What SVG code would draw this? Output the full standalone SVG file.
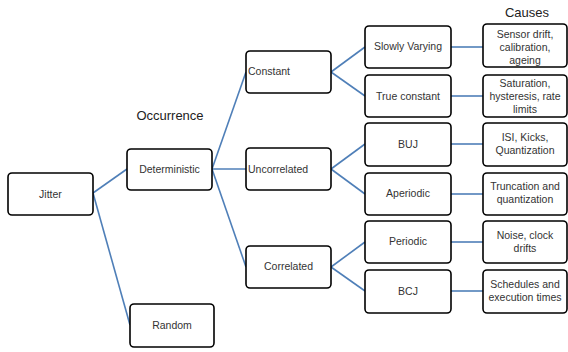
<svg xmlns="http://www.w3.org/2000/svg" width="568" height="352" viewBox="0 0 568 352">
<style>
.box{fill:#fff;stroke:#000;stroke-width:1.6}
.t{font-family:"Liberation Sans",Arial,sans-serif;font-size:10.5px;fill:#333;text-anchor:middle}
.tl{font-family:"Liberation Sans",Arial,sans-serif;font-size:10.5px;fill:#333}
.h{font-family:"Liberation Sans",Arial,sans-serif;font-size:13px;fill:#222;text-anchor:middle}
.c{stroke:#4f7fb8;stroke-width:1.6;fill:none}
</style>
<rect width="568" height="352" fill="#fff"/>
<text class="h" x="170" y="120">Occurrence</text>
<text class="h" x="527" y="17">Causes</text>
<g id="connectors">
<line class="c" x1="93" y1="193" x2="127" y2="169"/>
<line class="c" x1="93" y1="193" x2="130" y2="325"/>
<line class="c" x1="212" y1="169" x2="246" y2="72"/>
<line class="c" x1="212" y1="169" x2="246" y2="169"/>
<line class="c" x1="212" y1="169" x2="246" y2="267"/>
<line class="c" x1="331" y1="72" x2="365" y2="47"/>
<line class="c" x1="331" y1="72" x2="365" y2="96"/>
<line class="c" x1="331" y1="169" x2="365" y2="144"/>
<line class="c" x1="331" y1="169" x2="365" y2="194"/>
<line class="c" x1="331" y1="267" x2="365" y2="242"/>
<line class="c" x1="331" y1="267" x2="365" y2="291"/>
<line class="c" x1="451" y1="47" x2="483" y2="47"/>
<line class="c" x1="451" y1="96" x2="483" y2="96"/>
<line class="c" x1="451" y1="144" x2="483" y2="144"/>
<line class="c" x1="451" y1="194" x2="483" y2="194"/>
<line class="c" x1="451" y1="242" x2="483" y2="242"/>
<line class="c" x1="451" y1="291" x2="483" y2="291"/>
</g>
<g id="jitter"><rect class="box" x="8" y="173" width="85" height="42" rx="4"/><text class="t" x="50.5" y="198">Jitter</text></g>
<g id="deterministic"><rect class="box" x="127" y="149" width="85" height="41" rx="4"/><text class="t" x="169.5" y="173">Deterministic</text></g>
<g id="random"><rect class="box" x="130" y="304" width="84" height="43" rx="4"/><text class="t" x="172" y="329">Random</text></g>
<g id="constant"><rect class="box" x="246" y="51" width="85" height="42" rx="4"/><text class="tl" x="248" y="75">Constant</text></g>
<g id="uncorrelated"><rect class="box" x="246" y="148" width="85" height="42" rx="4"/><text class="tl" x="248" y="173">Uncorrelated</text></g>
<g id="correlated"><rect class="box" x="246" y="246" width="85" height="42" rx="4"/><text class="t" x="288.5" y="270">Correlated</text></g>
<g id="slowly"><rect class="box" x="365" y="26" width="86" height="42" rx="4"/><text class="t" x="408" y="50">Slowly Varying</text></g>
<g id="trueconst"><rect class="box" x="365" y="75" width="86" height="42" rx="4"/><text class="t" x="408" y="100">True constant</text></g>
<g id="buj"><rect class="box" x="365" y="123" width="86" height="43" rx="4"/><text class="t" x="408" y="148">BUJ</text></g>
<g id="aperiodic"><rect class="box" x="365" y="173" width="86" height="42" rx="4"/><text class="t" x="408" y="197">Aperiodic</text></g>
<g id="periodic"><rect class="box" x="365" y="221" width="86" height="42" rx="4"/><text class="t" x="408" y="245">Periodic</text></g>
<g id="bcj"><rect class="box" x="365" y="270" width="86" height="43" rx="4"/><text class="t" x="408" y="295">BCJ</text></g>
<g id="cause1"><rect class="box" x="483" y="24" width="84" height="43" rx="4"/><text class="t" x="525" y="38">Sensor drift,</text><text class="t" x="525" y="51">calibration,</text><text class="t" x="525" y="64">ageing</text></g>
<g id="cause2"><rect class="box" x="483" y="75" width="84" height="42" rx="4"/><text class="t" x="525" y="87">Saturation,</text><text class="t" x="525" y="100">hysteresis, rate</text><text class="t" x="525" y="113">limits</text></g>
<g id="cause3"><rect class="box" x="483" y="123" width="84" height="43" rx="4"/><text class="t" x="525" y="141">ISI, Kicks,</text><text class="t" x="525" y="154">Quantization</text></g>
<g id="cause4"><rect class="box" x="483" y="173" width="84" height="42" rx="4"/><text class="t" x="525" y="190">Truncation and</text><text class="t" x="525" y="203">quantization</text></g>
<g id="cause5"><rect class="box" x="483" y="221" width="84" height="42" rx="4"/><text class="t" x="525" y="239">Noise, clock</text><text class="t" x="525" y="252">drifts</text></g>
<g id="cause6"><rect class="box" x="483" y="270" width="84" height="43" rx="4"/><text class="t" x="525" y="288">Schedules and</text><text class="t" x="525" y="301">execution times</text></g>
</svg>
